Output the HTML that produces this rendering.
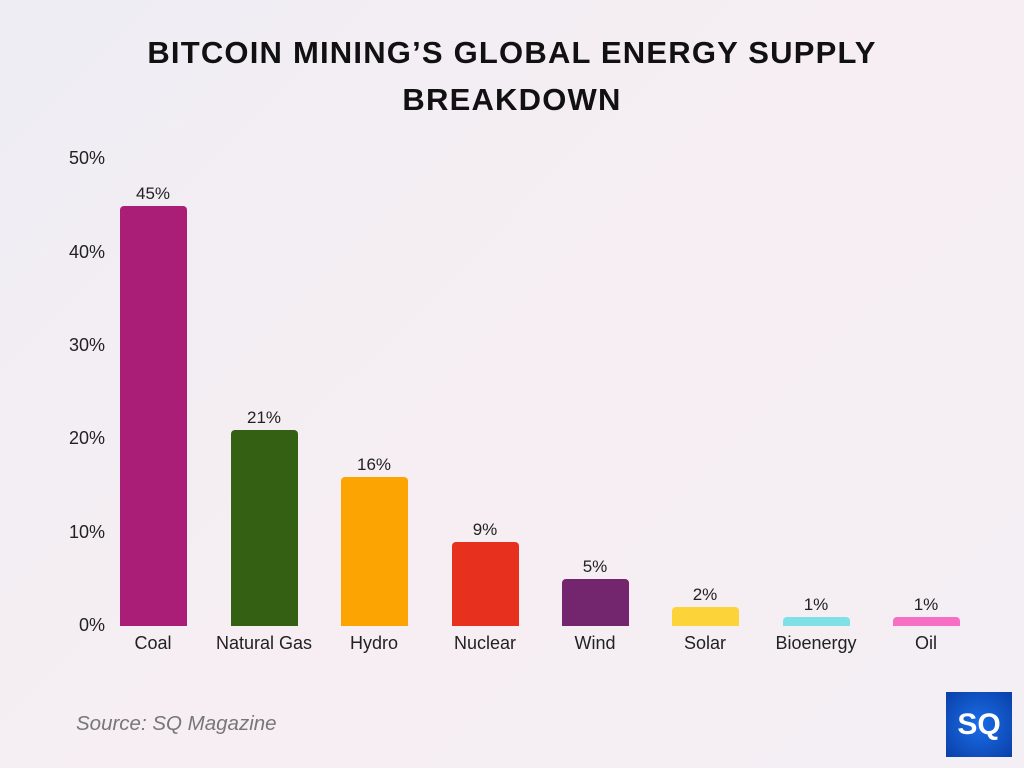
<!DOCTYPE html>
<html><head><meta charset="utf-8"><style>
body{margin:0;width:1024px;height:768px;overflow:hidden;position:relative;font-family:"Liberation Sans",sans-serif;background:linear-gradient(135deg,#eeedf4 0%,#f6eef2 50%,#f4eff4 100%);}
.t{position:absolute;left:0;width:1024px;text-align:center;font-weight:900;font-size:31px;color:#111;letter-spacing:1.2px}
.y{position:absolute;left:40px;width:65px;text-align:right;font-size:18px;color:#222}
.b{position:absolute;width:67px;border-radius:4px 4px 0 0}
.v{position:absolute;width:100px;text-align:center;font-size:17px;color:#222}
.c{position:absolute;width:130px;text-align:center;font-size:18px;color:#222;top:633px}
</style></head><body>
<div class="t" style="top:35px">BITCOIN MINING’S GLOBAL ENERGY SUPPLY</div>
<div class="t" style="top:82px">BREAKDOWN</div>
<div class="y" style="top:148px">50%</div>
<div class="y" style="top:242px">40%</div>
<div class="y" style="top:335px">30%</div>
<div class="y" style="top:428px">20%</div>
<div class="y" style="top:522px">10%</div>
<div class="y" style="top:615px">0%</div>

<div class="b" style="left:120px;top:206px;height:420px;background:#ab1e78"></div>
<div class="b" style="left:231px;top:430px;height:196px;background:#346014"></div>
<div class="b" style="left:341px;top:477px;height:149px;background:#fca402"></div>
<div class="b" style="left:452px;top:542px;height:84px;background:#e8301f"></div>
<div class="b" style="left:562px;top:579px;height:47px;background:#73266e"></div>
<div class="b" style="left:672px;top:607px;height:19px;background:#fcd43a"></div>
<div class="b" style="left:783px;top:617px;height:9px;background:#7fe0e8"></div>
<div class="b" style="left:893px;top:617px;height:9px;background:#f76fc5"></div>

<div class="v" style="left:103px;top:184px">45%</div>
<div class="v" style="left:214px;top:408px">21%</div>
<div class="v" style="left:324px;top:455px">16%</div>
<div class="v" style="left:435px;top:520px">9%</div>
<div class="v" style="left:545px;top:557px">5%</div>
<div class="v" style="left:655px;top:585px">2%</div>
<div class="v" style="left:766px;top:595px">1%</div>
<div class="v" style="left:876px;top:595px">1%</div>

<div class="c" style="left:88px">Coal</div>
<div class="c" style="left:199px">Natural Gas</div>
<div class="c" style="left:309px">Hydro</div>
<div class="c" style="left:420px">Nuclear</div>
<div class="c" style="left:530px">Wind</div>
<div class="c" style="left:640px">Solar</div>
<div class="c" style="left:751px">Bioenergy</div>
<div class="c" style="left:861px">Oil</div>

<div style="position:absolute;left:76px;top:712px;font-size:20.5px;font-style:italic;color:#777">Source: SQ Magazine</div>
<div style="position:absolute;left:946px;top:692px;width:66px;height:65px;background:radial-gradient(circle at 50% 50%,#1a6ee8,#0a3fa8);color:#fff;font-weight:900;font-size:30px;text-align:center;line-height:65px">SQ</div>
</body></html>
